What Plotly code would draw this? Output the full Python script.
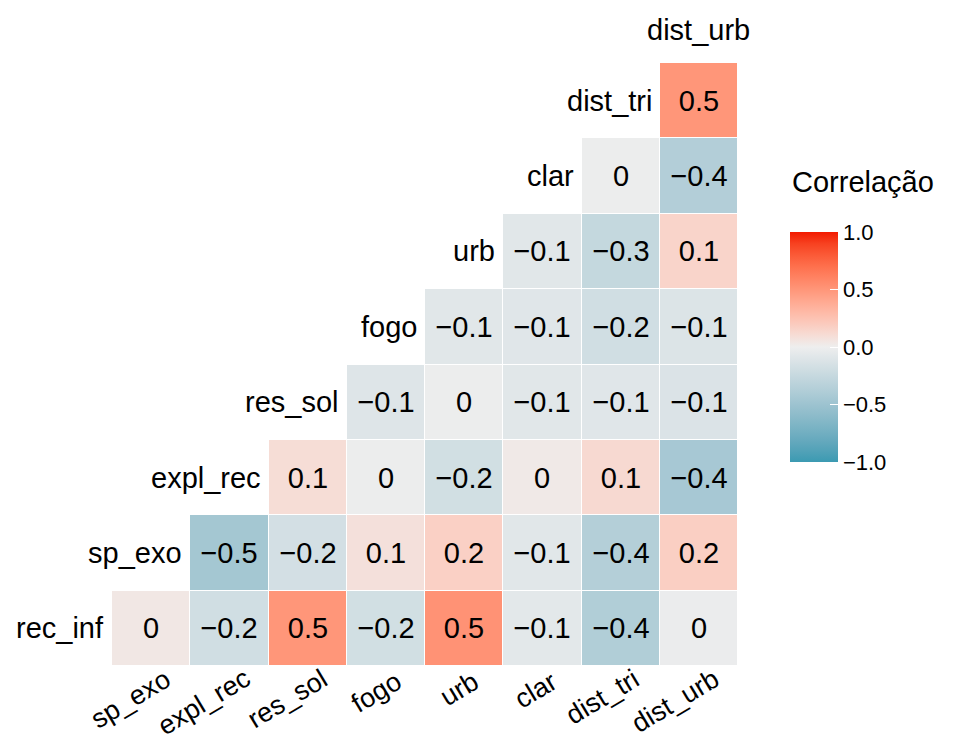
import numpy as np
import plotly.graph_objects as go

# Column variables (x axis) and row variables (y axis, bottom to top)
cols = ["sp_exo", "expl_rec", "res_sol", "fogo", "urb", "clar", "dist_tri", "dist_urb"]
rows = ["rec_inf", "sp_exo", "expl_rec", "res_sol", "fogo", "urb", "clar", "dist_tri"]
top_label = "dist_urb"

# Estimated correlations (row i has values for columns i..7)
r_rec_inf = [0.04, -0.19, 0.50, -0.18, 0.52, -0.07, -0.38, -0.02]
r_sp_exo = [-0.46, -0.17, 0.08, 0.17, -0.08, -0.36, 0.18]
r_expl_rec = [0.10, -0.01, -0.18, 0.03, 0.12, -0.44]
r_res_sol = [-0.10, -0.01, -0.08, -0.09, -0.12]
r_fogo = [-0.08, -0.09, -0.19, -0.11]
r_urb = [-0.08, -0.26, 0.15]
r_clar = [-0.01, -0.37]
r_dist_tri = [0.50]
row_values = [r_rec_inf, r_sp_exo, r_expl_rec, r_res_sol, r_fogo, r_urb, r_clar, r_dist_tri]

# ---- Lab-space diverging colour scale (like ggplot's scale_fill_gradient2) ----
def hex2rgb(h):
    h = h.lstrip("#")
    return np.array([int(h[i:i + 2], 16) / 255 for i in (0, 2, 4)])

def srgb2lin(c):
    return np.where(c <= 0.04045, c / 12.92, ((c + 0.055) / 1.055) ** 2.4)

def lin2srgb(c):
    return np.where(c <= 0.0031308, c * 12.92, 1.055 * np.power(np.clip(c, 0, None), 1 / 2.4) - 0.055)

M = np.array([[0.4124, 0.3576, 0.1805], [0.2126, 0.7152, 0.0722], [0.0193, 0.1192, 0.9505]])
Minv = np.linalg.inv(M)
WP = np.array([0.95047, 1.0, 1.08883])

def f(t):
    return np.where(t > (6 / 29) ** 3, np.cbrt(t), t / (3 * (6 / 29) ** 2) + 4 / 29)

def finv(t):
    return np.where(t > 6 / 29, t ** 3, 3 * (6 / 29) ** 2 * (t - 4 / 29))

def rgb2lab(rgb):
    xyz = M @ srgb2lin(rgb) / WP
    fx, fy, fz = f(xyz)
    return np.array([116 * fy - 16, 500 * (fx - fy), 200 * (fy - fz)])

def lab2rgb(lab):
    L, a, b = lab
    fy = (L + 16) / 116
    fx = fy + a / 500
    fz = fy - b / 200
    xyz = np.array([finv(fx), finv(fy), finv(fz)]) * WP
    return np.clip(lin2srgb(Minv @ xyz), 0, 1)

low, mid, high = rgb2lab(hex2rgb("#3B9AB2")), rgb2lab(hex2rgb("#EEEEEE")), rgb2lab(hex2rgb("#F21A00"))
scale = []
n = 20
for k in range(n + 1):
    t = k / n
    if t <= 0.5:
        lab = low + (mid - low) * (t / 0.5)
    else:
        lab = mid + (high - mid) * ((t - 0.5) / 0.5)
    r, g, b = (lab2rgb(lab) * 255).round().astype(int)
    scale.append([t, f"rgb({r},{g},{b})"])

# ---- Build matrices ----
z = [[None] * len(cols) for _ in rows]
txt = [[""] * len(cols) for _ in rows]
for i, vals in enumerate(row_values):
    for j, v in enumerate(vals):
        c = i + j
        z[i][c] = v
        rv = round(v, 1)
        if rv == 0:
            s = "0"
        else:
            s = f"{rv:.1f}".replace("-", "\u2212")
        txt[i][c] = s

FONT = "Liberation Sans, Arial, sans-serif"

# approximate Arial advance widths (em) to right-align rotated labels
CW = {"a": .556, "b": .556, "c": .5, "d": .556, "e": .556, "f": .278, "g": .556, "i": .222,
      "l": .222, "n": .556, "o": .556, "p": .556, "r": .333, "s": .5, "t": .278, "u": .556,
      "x": .5, "_": .556}

def em_width(s):
    return sum(CW.get(ch, .55) for ch in s)

fig = go.Figure(go.Heatmap(
    z=z, x=list(range(len(cols))), y=list(range(len(rows))),
    text=txt, texttemplate="%{text}",
    textfont=dict(family=FONT, size=29, color="black"),
    colorscale=scale, zmin=-1, zmax=1, xgap=1, ygap=1,
    hoverongaps=False,
    colorbar=dict(
        tickvals=[-1, -0.5, 0, 0.5, 1], ticktext=["\u22121.0", "\u22120.5", "0.0", "0.5", "1.0"],
        tickfont=dict(family=FONT, size=22, color="black"),
        ticks="inside", ticklen=8, tickcolor="white", tickwidth=1,
        thickness=48, lenmode="pixels", len=230,
        x=1.083, xanchor="left", xpad=0, y=0.529, yanchor="middle", ypad=0,
        outlinewidth=0,
    ),
))

annotations = []
for i, name in enumerate(rows):
    annotations.append(dict(x=i - 0.5, y=i, xref="x", yref="y", text=name, showarrow=False,
                            xanchor="right", yanchor="middle", xshift=-6,
                            font=dict(family=FONT, size=29, color="black")))
# rotated x-axis labels, right end anchored near the column (like ggplot hjust=1)
for j, name in enumerate(cols):
    em = em_width(name)
    annotations.append(dict(x=j, y=0, xref="x", yref="paper", text=name, showarrow=False,
                            textangle=-31, xanchor="center", yanchor="middle",
                            xshift=8.5 - 9.0 * em, yshift=-15.5 - 5.4 * em,
                            font=dict(family=FONT, size=27, color="black")))
annotations.append(dict(x=len(cols) - 1, y=1.055, xref="x", yref="paper", text=top_label,
                        showarrow=False, xanchor="center", yanchor="middle",
                        font=dict(family=FONT, size=29, color="black")))
annotations.append(dict(x=1.083, y=0.803, xref="paper", yref="paper", text="Correlação",
                        showarrow=False, xanchor="left", yanchor="middle",
                        font=dict(family=FONT, size=29, color="black")))

fig.update_layout(
    width=955, height=742,
    margin=dict(l=112, r=217, t=63, b=76, autoexpand=False),
    plot_bgcolor="white", paper_bgcolor="white",
    annotations=annotations,
    xaxis=dict(range=[-0.5, len(cols) - 0.5], showgrid=False, zeroline=False, showline=False,
               showticklabels=False, ticks="", automargin=False),
    yaxis=dict(range=[-0.5, len(rows) - 0.5], showgrid=False, zeroline=False, showline=False,
               showticklabels=False, ticks="", automargin=False),
)

fig.write_html("out.html")
